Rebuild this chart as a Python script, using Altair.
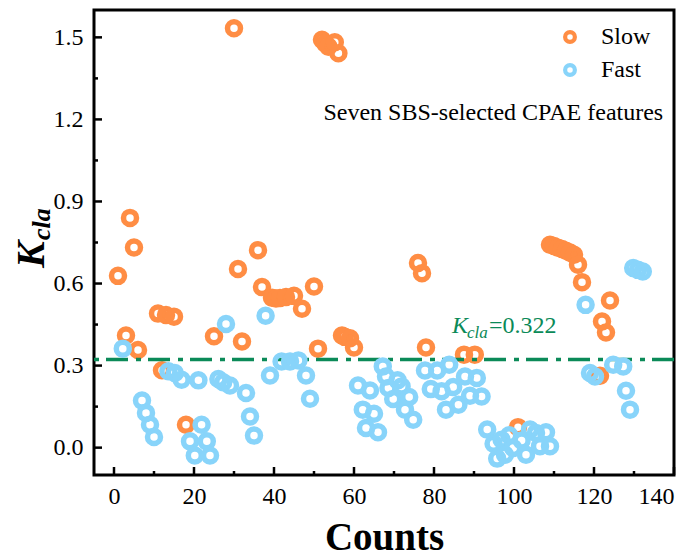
import altair as alt
import pandas as pd

# ---------------- data ----------------
slow_x = [1, 3, 4, 5, 6, 11, 12, 13, 15, 18, 25, 30, 31, 32, 36, 37, 39.5, 40.5, 41.5, 43, 45, 47,
          50, 51, 52, 52.8, 53.6, 55.2, 56.1, 57, 57.7, 59, 60, 76, 77, 78, 87.5, 90.2, 101,
          109, 110, 111, 112, 113, 114, 115, 116, 117, 121.5, 122, 123, 124]
slow_y = [0.628, 0.41, 0.84, 0.732, 0.357, 0.49, 0.283, 0.485, 0.479, 0.084, 0.407, 1.533, 0.653,
          0.388, 0.722, 0.587, 0.548, 0.545, 0.547, 0.551, 0.555, 0.508, 0.589, 0.362, 1.491, 1.478,
          1.466, 1.482, 1.442, 0.41, 0.405, 0.40, 0.366, 0.675, 0.638, 0.366, 0.34, 0.34, 0.075,
          0.742, 0.737, 0.731, 0.726, 0.72, 0.713, 0.705, 0.669, 0.605, 0.263, 0.461, 0.421, 0.538]

fast_x = [2.2, 7, 8, 9, 10, 13.6, 15.2, 16.9, 19, 20.2, 21.1, 21.9, 23.2, 24, 26.1, 27.3, 28, 29,
          33, 34, 35, 37.9, 39, 41.9, 44, 46.1, 48, 49, 61, 62.2, 63, 64, 65, 66, 67.2, 68, 68.6,
          69.8, 70.9, 71.9, 72.75, 73.8, 74.8, 77.75, 79.2, 80.8, 81.9, 83, 83.8, 84.8, 86.1, 87.75,
          89, 90.7, 91.9, 93.3, 94.9, 95.8, 96.9, 97.75, 98.8, 99.8, 101.9, 103, 104, 105.5, 106.5,
          108, 109, 117.9, 119, 120.25, 124.8, 127.3, 128, 129, 129.8, 131, 132.2]
fast_y = [0.362, 0.172, 0.127, 0.084, 0.039, 0.279, 0.273, 0.248, 0.023, -0.029, 0.246, 0.084,
          0.023, -0.029, 0.251, 0.239, 0.452, 0.227, 0.2, 0.114, 0.044, 0.482, 0.264, 0.315, 0.315,
          0.319, 0.264, 0.179, 0.227, 0.139, 0.072, 0.209, 0.124, 0.056, 0.297, 0.26, 0.218, 0.178,
          0.246, 0.224, 0.139, 0.185, 0.102, 0.282, 0.214, 0.282, 0.206, 0.139, 0.303, 0.222, 0.157,
          0.26, 0.19, 0.255, 0.187, 0.066, 0.014, -0.04, 0.029, -0.026, 0.045, -0.001, 0.026, -0.026,
          0.066, 0.054, 0.005, 0.056, 0.005, 0.522, 0.273, 0.26, 0.303, 0.297, 0.208, 0.139, 0.657,
          0.65, 0.644]

groups = ["Slow", "Fast"]
x_major = [0, 20, 40, 60, 80, 100, 120, 140]
x_minor = [10, 30, 50, 70, 90, 110, 130]
y_major = [0.0, 0.3, 0.6, 0.9, 1.2, 1.5]
y_minor = [0.15, 0.45, 0.75, 1.05, 1.35]
threshold = 0.322
threshold_label = "=0.322"
note_text = "Seven SBS-selected CPAE features"

# ---------------- styles ----------------
W, H = 580, 465
ORANGE = "#FF8D44"
BLUE = "#88D4FA"
GREEN = "#0B8A58"
FONT = "Liberation Serif"

xs = alt.Scale(domain=[-5, 140], nice=False, zero=False)
ys = alt.Scale(domain=[-0.1, 1.6], nice=False, zero=False)
cs = alt.Scale(domain=groups, range=[ORANGE, BLUE])

slow_df = pd.DataFrame({"x": slow_x, "y": slow_y, "group": "Slow"})
fast_df = pd.DataFrame({"x": fast_x, "y": fast_y, "group": "Fast"})

legend = alt.Legend(title=None, orient="none", legendX=464, legendY=15,
                    symbolType="circle", symbolSize=95, symbolStrokeWidth=4.2,
                    labelFont=FONT, labelFontSize=24, labelColor="black",
                    labelOffset=19, rowPadding=5)

x_axis = alt.Axis(values=x_major, format="d", title="Counts", labelFont=FONT, labelFontSize=24,
                  labelColor="black", labelPadding=9, tickSize=0, domain=False, grid=False,
                  titleFont=FONT, titleFontSize=39, titleFontWeight="bold", titleColor="black",
                  titlePadding=10)
y_axis = alt.Axis(values=y_major, format=".1f", title="", labelFont=FONT, labelFontSize=24,
                  labelColor="black", labelPadding=11, tickSize=0, domain=False, grid=False)


def X(field):
    return alt.X(field, scale=xs, axis=x_axis)


def Y(field):
    return alt.Y(field, scale=ys, axis=y_axis)


def points(df):
    return alt.Chart(df).mark_point(shape="circle", filled=False, size=169, strokeWidth=5.5,
                                    opacity=1).encode(
        x=X("x:Q"), y=Y("y:Q"),
        color=alt.Color("group:N", scale=cs, legend=legend),
    )


slow_layer = points(slow_df)
fast_layer = points(fast_df)

rule = alt.Chart(pd.DataFrame({"y": [threshold]})).mark_rule(
    color=GREEN, strokeWidth=3.5, strokeDash=[22, 7, 5, 8]).encode(y=Y("y:Q"))

# inward ticks
xt_major = alt.Chart(pd.DataFrame({"v": x_major})).mark_rule(color="black", strokeWidth=2.5).encode(
    x=X("v:Q"), y=alt.value(H), y2=alt.value(H - 8))
xt_minor = alt.Chart(pd.DataFrame({"v": x_minor})).mark_rule(color="black", strokeWidth=2.5).encode(
    x=X("v:Q"), y=alt.value(H), y2=alt.value(H - 4))
yt_major = alt.Chart(pd.DataFrame({"v": y_major})).mark_rule(color="black", strokeWidth=2.5).encode(
    y=Y("v:Q"), x=alt.value(0), x2=alt.value(8))
yt_minor = alt.Chart(pd.DataFrame({"v": y_minor})).mark_rule(color="black", strokeWidth=2.5).encode(
    y=Y("v:Q"), x=alt.value(0), x2=alt.value(4))

# threshold annotation
anchor = pd.DataFrame({"x": [84.5], "y": [0.42]})
ann_k = alt.Chart(anchor).mark_text(text="K", font=FONT, fontSize=24, fontStyle="italic",
                                    color=GREEN, align="left", baseline="alphabetic").encode(
    x=X("x:Q"), y=Y("y:Q"))
ann_sub = alt.Chart(anchor).mark_text(text="cla", font=FONT, fontSize=17, fontStyle="italic",
                                      color=GREEN, align="left", baseline="alphabetic",
                                      dx=15, dy=5).encode(x=X("x:Q"), y=Y("y:Q"))
ann_val = alt.Chart(anchor).mark_text(text=threshold_label, font=FONT, fontSize=24,
                                      color=GREEN, align="left", baseline="alphabetic",
                                      dx=37).encode(x=X("x:Q"), y=Y("y:Q"))

note = alt.Chart(pd.DataFrame({"x": [137.3], "y": [1.198]})).mark_text(
    text=note_text, font=FONT, fontSize=24, color="black", align="right",
    baseline="alphabetic").encode(x=X("x:Q"), y=Y("y:Q"))

# y-axis title K_cla (rotated)
ytitle_k = alt.Chart(pd.DataFrame({"t": ["K"]})).mark_text(
    font=FONT, fontSize=40, fontStyle="italic", fontWeight="bold", color="black",
    angle=270, align="left", baseline="alphabetic").encode(
    text="t:N", x=alt.value(-50), y=alt.value(258))
ytitle_sub = alt.Chart(pd.DataFrame({"t": ["cla"]})).mark_text(
    font=FONT, fontSize=26, fontStyle="italic", fontWeight="bold", color="black",
    angle=270, align="left", baseline="alphabetic").encode(
    text="t:N", x=alt.value(-44), y=alt.value(230))

chart = alt.layer(
    slow_layer, rule, fast_layer, xt_major, xt_minor, yt_major, yt_minor,
    ann_k, ann_sub, ann_val, note, ytitle_k, ytitle_sub,
).properties(
    width=W, height=H,
    background="white",
    autosize=alt.AutoSizeParams(type="none"),
    padding={"left": 86, "top": 2, "right": 11, "bottom": 84},
).configure_view(
    stroke="black", strokeWidth=3
)

chart.save("out.html", embed_options={"renderer": "svg", "actions": False})
